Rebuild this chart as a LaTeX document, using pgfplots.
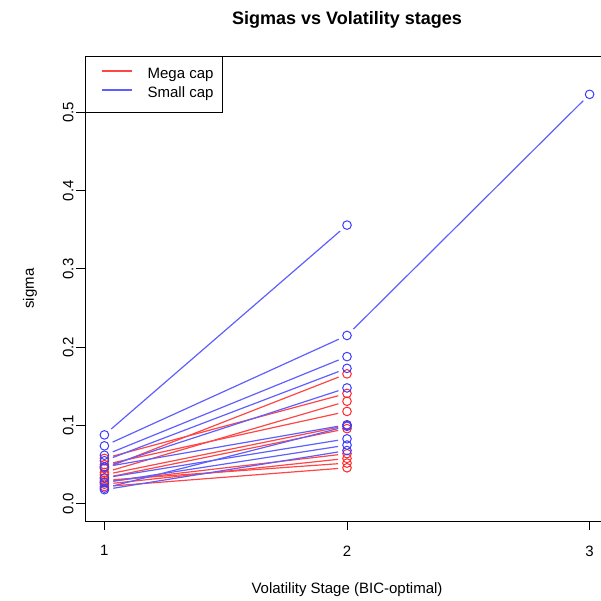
\documentclass[border=0pt]{standalone}
\usepackage{pgfplots}
\pgfplotsset{compat=1.18}
\usepackage{fontspec}
\setmainfont{Liberation Sans}
\definecolor{rl}{RGB}{255,70,70}
\definecolor{bl}{RGB}{95,95,255}
\definecolor{rp}{RGB}{255,40,40}
\definecolor{bp}{RGB}{60,60,255}
\begin{document}
\begin{tikzpicture}
\begin{axis}[
  scale only axis, width=524pt, height=465pt,
  xmin=0.92, xmax=3.08, ymin=-0.022, ymax=0.572,
  clip=false,
  axis line style={black, line width=0.9pt},
  tick align=outside, major tick length=9pt, tick pos=left,
  every tick/.style={black, line width=0.9pt},
  xtick={1,2,3}, ytick={0,0.1,0.2,0.3,0.4,0.5},
  /pgf/number format/assume math mode=true,
  tick label style={font=\fontsize{15}{18}\selectfont},
  xticklabel style={yshift=-12pt},
  yticklabel style={/pgf/number format/fixed,/pgf/number format/precision=1,/pgf/number format/fixed zerofill, rotate=90, anchor=south, yshift=-1pt},
  title={Sigmas vs Volatility stages},
  title style={at={(axis description cs:0.5,1)}, anchor=center, yshift=30pt, font=\bfseries\fontsize{18}{21}\selectfont},
  xlabel={Volatility Stage (BIC-optimal)},
  ylabel={sigma},
  label style={font=\fontsize{15}{18}\selectfont},
  xlabel style={at={(axis description cs:0.5,0)}, anchor=center, yshift=-69pt},
  ylabel style={at={(axis description cs:0,0.5)}, anchor=center, yshift=55pt},
  legend style={at={(0,1)}, anchor=north west, draw=black, line width=0.9pt,
    font=\fontsize{15}{18}\selectfont, inner xsep=9pt, inner ysep=12pt,
    row sep=6pt, column sep=15pt,
    nodes={inner sep=0pt, text height=10.5pt, text depth=2.5pt}},
  legend cell align=left,
  legend image code/.code={\path (0pt,0pt); \draw[#1] (7pt,4pt) -- (37pt,4pt);},
]
\addlegendimage{rl, line width=1.2pt}\addlegendentry{Mega cap}
\addlegendimage{bl, line width=1.2pt}\addlegendentry{Small cap}

\pgfplotsset{seg/.style={line width=1.2pt, shorten >=9pt, shorten <=9pt, forget plot}}
% Mega cap (red)
\addplot[rl, seg] coordinates {(1,0.045) (2,0.166)};
\addplot[rl, seg] coordinates {(1,0.058) (2,0.141)};
\addplot[rl, seg] coordinates {(1,0.040) (2,0.131)};
\addplot[rl, seg] coordinates {(1,0.050) (2,0.118)};
\addplot[rl, seg] coordinates {(1,0.037) (2,0.100)};
\addplot[rl, seg] coordinates {(1,0.033) (2,0.096)};
\addplot[rl, seg] coordinates {(1,0.028) (2,0.064)};
\addplot[rl, seg] coordinates {(1,0.025) (2,0.058)};
\addplot[rl, seg] coordinates {(1,0.030) (2,0.052)};
\addplot[rl, seg] coordinates {(1,0.022) (2,0.046)};
\addplot[rp, only marks, mark=o, mark size=4.3pt, line width=1pt, forget plot] coordinates {
 (1,0.045) (1,0.058) (1,0.040) (1,0.050) (1,0.037) (1,0.033) (1,0.028) (1,0.025) (1,0.030) (1,0.022)
 (2,0.166) (2,0.141) (2,0.131) (2,0.118) (2,0.100) (2,0.096) (2,0.064) (2,0.058) (2,0.052) (2,0.046)};

% Small cap (blue)
\addplot[bl, seg] coordinates {(1,0.088) (2,0.356)};
\addplot[bl, seg] coordinates {(1,0.074) (2,0.215)};
\addplot[bl, seg] coordinates {(2,0.215) (3,0.523)};
\addplot[bl, seg] coordinates {(1,0.062) (2,0.188)};
\addplot[bl, seg] coordinates {(1,0.055) (2,0.173)};
\addplot[bl, seg] coordinates {(1,0.047) (2,0.148)};
\addplot[bl, seg] coordinates {(1,0.047) (2,0.101)};
\addplot[bl, seg] coordinates {(1,0.020) (2,0.099)};
\addplot[bl, seg] coordinates {(1,0.033) (2,0.083)};
\addplot[bl, seg] coordinates {(1,0.027) (2,0.075)};
\addplot[bl, seg] coordinates {(1,0.018) (2,0.068)};
\addplot[bp, only marks, mark=o, mark size=4.3pt, line width=1pt, forget plot] coordinates {
 (1,0.088) (1,0.074) (1,0.062) (1,0.055) (1,0.047) (1,0.047) (1,0.020) (1,0.033) (1,0.027) (1,0.018)
 (2,0.356) (2,0.215) (2,0.188) (2,0.173) (2,0.148) (2,0.101) (2,0.099) (2,0.083) (2,0.075) (2,0.068)
 (3,0.523)};
\end{axis}
\pgfresetboundingbox
\path[use as bounding box] (-85pt,-79pt) rectangle (516pt,521pt);
\end{tikzpicture}
\end{document}
